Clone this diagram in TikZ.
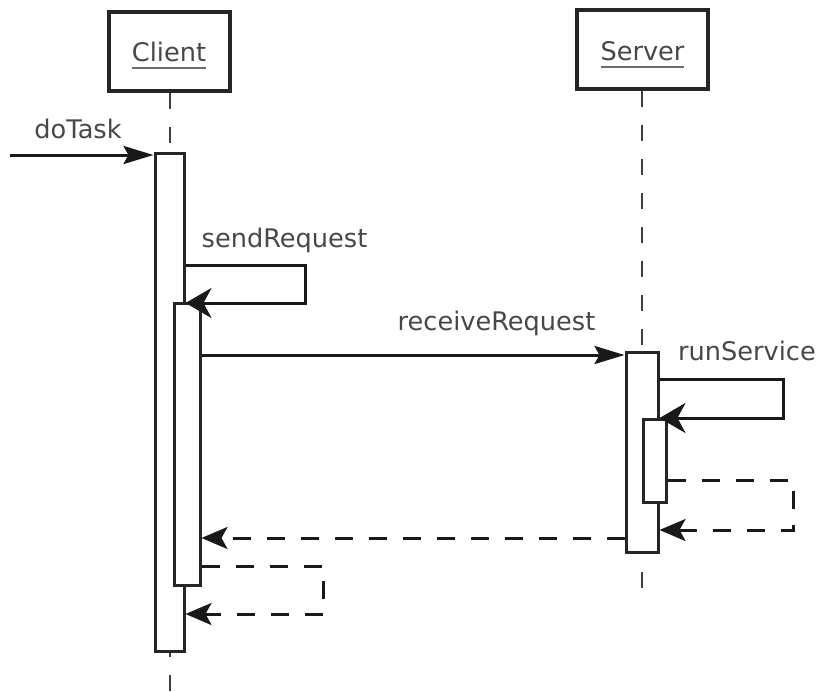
\documentclass[tikz,border=0pt]{standalone}
\usepackage{fontspec}
\setmainfont{DejaVu Sans}
\usetikzlibrary{arrows.meta}
\definecolor{txt}{rgb}{0.28,0.28,0.28}
\newcommand\myul[1]{\setbox0\hbox{#1}\rlap{\color{txt!80}\rule[-4.2pt]{\wd0}{1.1pt}}\box0}
\begin{document}
\begin{tikzpicture}[x=0.5pt,y=-0.5pt,
  lifebox/.style={draw=black!85,line width=2pt,fill=white,inner sep=0pt},
  actbar/.style={draw=black!85,line width=1.5pt,fill=white,inner sep=0pt},
  lifeline/.style={draw=black!75,line width=1pt,dash pattern=on 8pt off 9pt},
  msg/.style={draw=black!90,line width=1.5pt},
  ret/.style={draw=black!90,line width=1.5pt,dash pattern=on 9pt off 8pt},
  callhead/.style={-{Stealth[length=15pt,width=9pt,inset=2.5pt]}},
  selfhead/.style={-{Stealth[length=13pt,width=15pt,inset=4pt]}},
  rethead/.style={-{Stealth[length=13pt,width=11pt,inset=3pt]}},
  lbl/.style={text=txt,font=\fontsize{12.8pt}{14pt}\selectfont,inner sep=0pt,anchor=base}
]
\useasboundingbox (0,0) rectangle (821,692);
% lifeline heads
\node[lifebox,minimum width=60.5pt,minimum height=39.5pt] (client) at (169,51.5) {};
\node[lifebox,minimum width=65.5pt,minimum height=39.5pt] (server) at (642.5,49.5) {};
\node[lbl] (clientlbl) at (169,61) {\myul{Client}};
\node[lbl] (serverlbl) at (642.5,60) {\myul{Server}};
% activation bars
\node[actbar,minimum width=14.5pt,minimum height=249pt] (cb1) at (169.5,402) {};
\node[actbar,minimum width=13pt,minimum height=141pt] (cb2) at (187,444) {};
\node[actbar,minimum width=16pt,minimum height=100pt] (sb1) at (642,452) {};
\node[actbar,minimum width=11.5pt,minimum height=41.5pt] (sb2) at (654.5,460.5) {};
% lifelines
\coordinate (cend) at (169.5,692);
\coordinate (send) at (642,588);
\draw[lifeline] (client.south -| cb1.north) -- (cb1.north);
\draw[lifeline,dash phase=6pt] (cb1.south) -- (cend);
\draw[lifeline] (server.south -| sb1.north) -- (sb1.north);
\draw[lifeline,dash phase=8pt] (sb1.south) -- (send);
% doTask
\coordinate (start) at (10,155);
\draw[msg,callhead] (start) -- (start -| cb1.west);
\node[lbl] (dotask) at (78,138) {doTask};
% sendRequest
\coordinate (sr1) at (305,265);
\coordinate (sr2) at (305,303);
\draw[msg,selfhead] (cb1.east |- sr1) -- (sr1) -- (sr2) -- (sr2 -| cb1.east);
\node[lbl] (sendreq) at (284.5,247) {sendRequest};
% receiveRequest
\coordinate (rr) at (400,355);
\draw[msg,callhead] (rr -| cb2.east) -- (rr -| sb1.west);
\node[lbl] (recvreq) at (496.5,330) {receiveRequest};
% runService
\coordinate (rs1) at (783,379);
\coordinate (rs2) at (783,418);
\draw[msg,selfhead] (sb1.east |- rs1) -- (rs1) -- (rs2) -- (rs2 -| sb1.east);
\node[lbl] (runsvc) at (747,360) {runService};
% return from runService
\coordinate (r1a) at (793,480);
\coordinate (r1b) at (793,530);
\draw[ret,rethead] (sb2.east |- r1a) -- (r1a) -- (r1b) -- (r1b -| sb1.east);
% return from server to client
\coordinate (r2) at (400,538);
\draw[ret,rethead] (r2 -| sb1.west) -- (r2 -| cb2.east);
% return from sendRequest
\coordinate (r3a) at (323,566);
\coordinate (r3b) at (323,614);
\draw[ret,rethead] (cb2.east |- r3a) -- (r3a) -- (r3b) -- (r3b -| cb1.east);
\end{tikzpicture}
\end{document}
